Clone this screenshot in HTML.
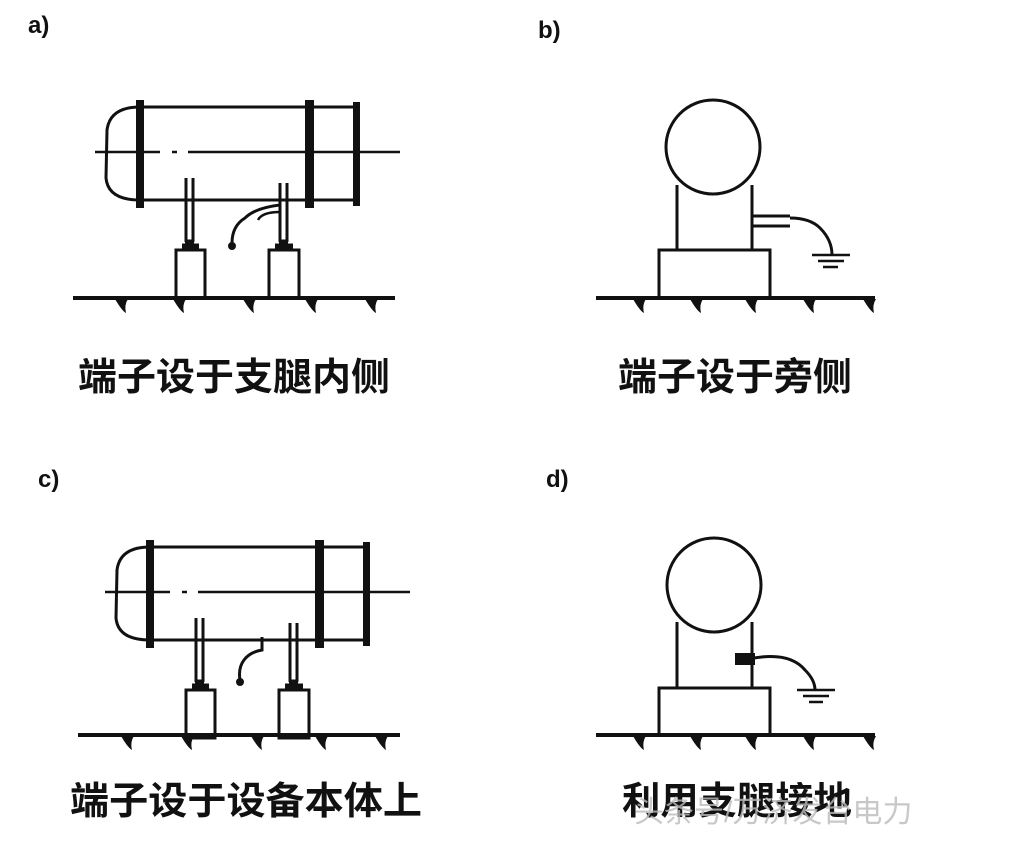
<!DOCTYPE html>
<html><head><meta charset="utf-8"><style>
body{margin:0;background:#fff;width:1020px;height:843px;overflow:hidden}
svg{display:block}
text{font-family:"Liberation Sans","Noto Sans CJK SC",sans-serif;font-weight:bold;fill:#111}
</style></head><body>
<svg width="1020" height="843" viewBox="0 0 1020 843" xmlns="http://www.w3.org/2000/svg">
<defs>
<g id="tick"><path d="M-7,0 Q0,12 4,14 Q2,6 6,0 Z" fill="#111"/></g>
<g id="vessel" stroke="#111" fill="none" stroke-width="3">
  <path d="M140,107 L357,107 M140,200 L357,200"/>
  <path d="M140,107 Q110,107 107,130 L106,178 Q108,200 140,200"/>
  <path d="M95,152 L160,152 M172,152 L177,152 M188,152 L400,152" stroke-width="2.5"/>
  <rect x="136" y="100" width="8" height="108" fill="#111" stroke="none"/>
  <rect x="305" y="100" width="9" height="108" fill="#111" stroke="none"/>
  <rect x="353" y="102" width="7" height="104" fill="#111" stroke="none"/>
  <path d="M186,178 L186,242 M193,178 L193,242" stroke-width="3"/>
  <path d="M280,183 L280,242 M287,183 L287,242" stroke-width="3"/>
  <path d="M185,242 L194,242 M279,242 L288,242" stroke-width="5"/>
  <rect x="176" y="250" width="29" height="48"/>
  <rect x="269" y="250" width="30" height="48"/>
  <path d="M182,246 L199,246 M275,246 L293,246" stroke-width="5"/>
</g>
</defs>

<text x="28" y="33" font-size="24">a)</text>
<text x="538" y="38" font-size="24">b)</text>
<text x="38" y="487" font-size="24">c)</text>
<text x="546" y="487" font-size="24">d)</text>

<!-- a -->
<use href="#vessel"/>
<path d="M280,205 Q255,208 245,218 Q232,226 232,243" stroke="#111" stroke-width="3" fill="none"/>
<path d="M280,212 Q262,212 258,220" stroke="#111" stroke-width="2.5" fill="none"/>
<circle cx="232" cy="246" r="4" fill="#111"/>
<line x1="73" y1="298" x2="395" y2="298" stroke="#111" stroke-width="4"/>
<use href="#tick" x="122" y="299"/><use href="#tick" x="180" y="299"/><use href="#tick" x="250" y="299"/><use href="#tick" x="312" y="299"/><use href="#tick" x="372" y="299"/>
<text x="78" y="390" font-size="38" textLength="312" lengthAdjust="spacingAndGlyphs">端子设于支腿内侧</text>

<!-- b -->
<g stroke="#111" stroke-width="3" fill="none">
<circle cx="713" cy="147" r="47"/>
<path d="M677,185 L677,250 M752,185 L752,250"/>
<rect x="659" y="250" width="111" height="48"/>
<path d="M752,216 L790,216 M752,226 L790,226" />
<path d="M790,218 Q810,218 820,228 Q832,240 832,255"/>
<path d="M812,255 L850,255 M818,261 L844,261 M823,267 L838,267" stroke-width="2.5"/>
<line x1="596" y1="298" x2="875" y2="298" stroke-width="4"/>
</g>
<use href="#tick" x="640" y="299"/><use href="#tick" x="697" y="299"/><use href="#tick" x="752" y="299"/><use href="#tick" x="810" y="299"/><use href="#tick" x="870" y="299"/>
<text x="618" y="390" font-size="38" textLength="234" lengthAdjust="spacingAndGlyphs">端子设于旁侧</text>

<!-- c -->
<g transform="translate(10,440)"><use href="#vessel"/></g>
<path d="M262,637 L262,650 Q250,652 244,660 Q238,668 240,680" stroke="#111" stroke-width="3" fill="none"/>
<circle cx="240" cy="682" r="4" fill="#111"/>
<line x1="78" y1="735" x2="400" y2="735" stroke="#111" stroke-width="4"/>
<use href="#tick" x="128" y="736"/><use href="#tick" x="188" y="736"/><use href="#tick" x="258" y="736"/><use href="#tick" x="322" y="736"/><use href="#tick" x="382" y="736"/>
<text x="70" y="814" font-size="38" textLength="352" lengthAdjust="spacingAndGlyphs">端子设于设备本体上</text>

<!-- d -->
<g stroke="#111" stroke-width="3" fill="none">
<circle cx="714" cy="585" r="47"/>
<path d="M677,622 L677,688 M752,622 L752,688"/>
<rect x="659" y="688" width="111" height="47"/>
<path d="M754,658 Q790,652 805,670 Q815,680 815,690"/>
<path d="M797,690 L835,690 M803,696 L829,696 M809,702 L823,702" stroke-width="2.5"/>
<line x1="596" y1="735" x2="875" y2="735" stroke-width="4"/>
</g>
<rect x="735" y="653" width="20" height="12" fill="#111"/>
<use href="#tick" x="640" y="736"/><use href="#tick" x="697" y="736"/><use href="#tick" x="752" y="736"/><use href="#tick" x="810" y="736"/><use href="#tick" x="870" y="736"/>
<text x="622" y="814" font-size="38" textLength="230" lengthAdjust="spacingAndGlyphs">利用支腿接地</text>
<text x="634" y="822" font-size="30" style="font-weight:normal;fill:#bbb" opacity="0.8">头条号/万济发台电力</text>
</svg>
</body></html>
